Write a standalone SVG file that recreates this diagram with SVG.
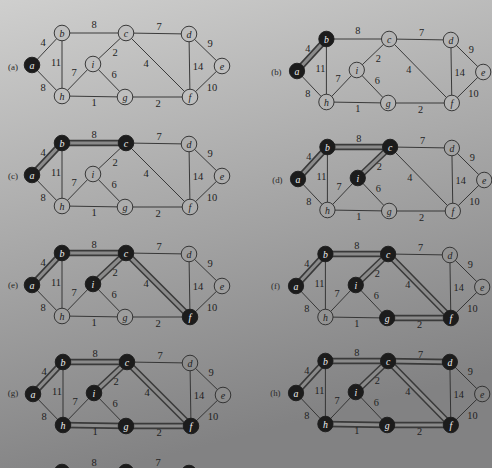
<svg xmlns="http://www.w3.org/2000/svg" width="492" height="468" viewBox="0 0 492 468">
<defs>
<linearGradient id="bg" gradientUnits="userSpaceOnUse" x1="0" y1="0" x2="120" y2="468">
<stop offset="0" stop-color="#cfcfce"/><stop offset="1" stop-color="#828283"/>
</linearGradient>
<style>
line{stroke-linecap:round}
.thin{stroke:#2b2b2b;stroke-width:0.9}
.t1{stroke:#3a3a3a;stroke-width:6.4}
.t2{stroke:#8a8a8a;stroke-width:3.2}
.node circle{stroke:#2a2a2a;stroke-width:0.9}
.b circle{fill:#1c1c1c;stroke:#1c1c1c}
.node text{font-family:"Liberation Serif",serif;font-style:italic;font-size:10px;text-anchor:middle;dominant-baseline:central}
.w text{fill:#222}
.b text{fill:#eeeeee}
.wt{font-family:"Liberation Serif",serif;font-size:10.5px;fill:#1e1e1e;text-anchor:middle;dominant-baseline:central}
.pl{font-family:"Liberation Serif",serif;font-size:9px;fill:#2a2a2a;text-anchor:middle;dominant-baseline:central}
</style>
<g id="base">
<line x1="0" y1="0" x2="30" y2="-32"/>
<line x1="30" y1="-32" x2="94" y2="-32"/>
<line x1="94" y1="-32" x2="157" y2="-31"/>
<line x1="157" y1="-31" x2="190" y2="1"/>
<line x1="30" y1="-32" x2="30" y2="31"/>
<line x1="0" y1="0" x2="30" y2="31"/>
<line x1="94" y1="-32" x2="61" y2="-1"/>
<line x1="94" y1="-32" x2="158" y2="32"/>
<line x1="30" y1="31" x2="61" y2="-1"/>
<line x1="61" y1="-1" x2="93" y2="32"/>
<line x1="157" y1="-31" x2="158" y2="32"/>
<line x1="190" y1="1" x2="158" y2="32"/>
<line x1="30" y1="31" x2="93" y2="32"/>
<line x1="93" y1="32" x2="158" y2="32"/>
</g>
<line id="ab" x1="0" y1="0" x2="30" y2="-32"/>
<line id="bc" x1="30" y1="-32" x2="94" y2="-32"/>
<line id="ci" x1="94" y1="-32" x2="61" y2="-1"/>
<line id="cf" x1="94" y1="-32" x2="158" y2="32"/>
<line id="fg" x1="93" y1="32" x2="158" y2="32"/>
<line id="gh" x1="30" y1="31" x2="93" y2="32"/>
<line id="cd" x1="94" y1="-32" x2="157" y2="-31"/>
</defs>
<rect width="492" height="468" fill="url(#bg)"/>

<!-- (a) -->
<g id="panel-a" transform="translate(32,65)">
<g id="a-connectors"><use href="#base" class="thin"/></g>
<g id="a-weights">
<text class="wt" x="11" y="-23">4</text><text class="wt" x="62" y="-41">8</text><text class="wt" x="127" y="-39">7</text><text class="wt" x="178" y="-22">9</text><text class="wt" x="24" y="-3">11</text><text class="wt" x="83" y="-13">2</text><text class="wt" x="114" y="-2">4</text><text class="wt" x="166" y="1">14</text><text class="wt" x="42" y="7">7</text><text class="wt" x="82" y="9">6</text><text class="wt" x="11" y="22">8</text><text class="wt" x="180" y="22">10</text><text class="wt" x="62" y="37">1</text><text class="wt" x="126" y="38">2</text>
<text class="pl" x="-19" y="2">(a)</text>
</g>
<g fill="#bfbfbf">
<g id="a-a" class="node b"><circle cx="0" cy="0" r="7.8"/><text x="0" y="0">a</text></g>
<g id="a-b" class="node w"><circle cx="30" cy="-32" r="7.8"/><text x="30" y="-32">b</text></g>
<g id="a-c" class="node w"><circle cx="94" cy="-32" r="7.8"/><text x="94" y="-32">c</text></g>
<g id="a-d" class="node w"><circle cx="157" cy="-31" r="7.8"/><text x="157" y="-31">d</text></g>
<g id="a-e" class="node w"><circle cx="190" cy="1" r="7.8"/><text x="190" y="1">e</text></g>
<g id="a-f" class="node w"><circle cx="158" cy="32" r="7.8"/><text x="158" y="32">f</text></g>
<g id="a-g" class="node w"><circle cx="93" cy="32" r="7.8"/><text x="93" y="32">g</text></g>
<g id="a-h" class="node w"><circle cx="30" cy="31" r="7.8"/><text x="30" y="31">h</text></g>
<g id="a-i" class="node w"><circle cx="61" cy="-1" r="7.8"/><text x="61" y="-1">i</text></g>
</g>
</g>

<!-- (b) -->
<g id="panel-b" transform="translate(297,71) scale(0.98,1)">
<g id="b-connectors"><use href="#base" class="thin"/><use href="#ab" class="t1"/><use href="#ab" class="t2"/></g>
<g id="b-weights">
<text class="wt" x="11" y="-23">4</text><text class="wt" x="62" y="-41">8</text><text class="wt" x="127" y="-39">7</text><text class="wt" x="178" y="-22">9</text><text class="wt" x="24" y="-3">11</text><text class="wt" x="83" y="-13">2</text><text class="wt" x="114" y="-2">4</text><text class="wt" x="166" y="1">14</text><text class="wt" x="42" y="7">7</text><text class="wt" x="82" y="9">6</text><text class="wt" x="11" y="22">8</text><text class="wt" x="180" y="22">10</text><text class="wt" x="62" y="37">1</text><text class="wt" x="126" y="38">2</text>
<text class="pl" x="-21" y="1">(b)</text>
</g>
<g fill="#b4b4b4">
<g id="b-a" class="node b"><circle cx="0" cy="0" r="7.8"/><text x="0" y="0">a</text></g>
<g id="b-b" class="node b"><circle cx="30" cy="-32" r="7.8"/><text x="30" y="-32">b</text></g>
<g id="b-c" class="node w"><circle cx="94" cy="-32" r="7.8"/><text x="94" y="-32">c</text></g>
<g id="b-d" class="node w"><circle cx="157" cy="-31" r="7.8"/><text x="157" y="-31">d</text></g>
<g id="b-e" class="node w"><circle cx="190" cy="1" r="7.8"/><text x="190" y="1">e</text></g>
<g id="b-f" class="node w"><circle cx="158" cy="32" r="7.8"/><text x="158" y="32">f</text></g>
<g id="b-g" class="node w"><circle cx="93" cy="32" r="7.8"/><text x="93" y="32">g</text></g>
<g id="b-h" class="node w"><circle cx="30" cy="31" r="7.8"/><text x="30" y="31">h</text></g>
<g id="b-i" class="node w"><circle cx="61" cy="-1" r="7.8"/><text x="61" y="-1">i</text></g>
</g>
</g>

<!-- (c) -->
<g id="panel-c" transform="translate(32,175)">
<g id="c-connectors"><use href="#base" class="thin"/><use href="#ab" class="t1"/><use href="#ab" class="t2"/><use href="#bc" class="t1"/><use href="#bc" class="t2"/></g>
<g id="c-weights">
<text class="wt" x="11" y="-23">4</text><text class="wt" x="62" y="-41">8</text><text class="wt" x="127" y="-39">7</text><text class="wt" x="178" y="-22">9</text><text class="wt" x="24" y="-3">11</text><text class="wt" x="83" y="-13">2</text><text class="wt" x="114" y="-2">4</text><text class="wt" x="166" y="1">14</text><text class="wt" x="42" y="7">7</text><text class="wt" x="82" y="9">6</text><text class="wt" x="11" y="22">8</text><text class="wt" x="180" y="22">10</text><text class="wt" x="62" y="37">1</text><text class="wt" x="126" y="38">2</text>
<text class="pl" x="-19" y="1">(c)</text>
</g>
<g fill="#aeaeae">
<g id="c-a" class="node b"><circle cx="0" cy="0" r="7.8"/><text x="0" y="0">a</text></g>
<g id="c-b" class="node b"><circle cx="30" cy="-32" r="7.8"/><text x="30" y="-32">b</text></g>
<g id="c-c" class="node b"><circle cx="94" cy="-32" r="7.8"/><text x="94" y="-32">c</text></g>
<g id="c-d" class="node w"><circle cx="157" cy="-31" r="7.8"/><text x="157" y="-31">d</text></g>
<g id="c-e" class="node w"><circle cx="190" cy="1" r="7.8"/><text x="190" y="1">e</text></g>
<g id="c-f" class="node w"><circle cx="158" cy="32" r="7.8"/><text x="158" y="32">f</text></g>
<g id="c-g" class="node w"><circle cx="93" cy="32" r="7.8"/><text x="93" y="32">g</text></g>
<g id="c-h" class="node w"><circle cx="30" cy="31" r="7.8"/><text x="30" y="31">h</text></g>
<g id="c-i" class="node w"><circle cx="61" cy="-1" r="7.8"/><text x="61" y="-1">i</text></g>
</g>
</g>

<!-- (d) -->
<g id="panel-d" transform="translate(298,179) scale(0.98,1)">
<g id="d-connectors"><use href="#base" class="thin"/><use href="#ab" class="t1"/><use href="#ab" class="t2"/><use href="#bc" class="t1"/><use href="#bc" class="t2"/><use href="#ci" class="t1"/><use href="#ci" class="t2"/></g>
<g id="d-weights">
<text class="wt" x="11" y="-23">4</text><text class="wt" x="62" y="-41">8</text><text class="wt" x="127" y="-39">7</text><text class="wt" x="178" y="-22">9</text><text class="wt" x="24" y="-3">11</text><text class="wt" x="83" y="-13">2</text><text class="wt" x="114" y="-2">4</text><text class="wt" x="166" y="1">14</text><text class="wt" x="42" y="7">7</text><text class="wt" x="82" y="9">6</text><text class="wt" x="11" y="22">8</text><text class="wt" x="180" y="22">10</text><text class="wt" x="62" y="37">1</text><text class="wt" x="126" y="38">2</text>
<text class="pl" x="-21" y="1">(d)</text>
</g>
<g fill="#a3a3a3">
<g id="d-a" class="node b"><circle cx="0" cy="0" r="7.8"/><text x="0" y="0">a</text></g>
<g id="d-b" class="node b"><circle cx="30" cy="-32" r="7.8"/><text x="30" y="-32">b</text></g>
<g id="d-c" class="node b"><circle cx="94" cy="-32" r="7.8"/><text x="94" y="-32">c</text></g>
<g id="d-d" class="node w"><circle cx="157" cy="-31" r="7.8"/><text x="157" y="-31">d</text></g>
<g id="d-e" class="node w"><circle cx="190" cy="1" r="7.8"/><text x="190" y="1">e</text></g>
<g id="d-f" class="node w"><circle cx="158" cy="32" r="7.8"/><text x="158" y="32">f</text></g>
<g id="d-g" class="node w"><circle cx="93" cy="32" r="7.8"/><text x="93" y="32">g</text></g>
<g id="d-h" class="node w"><circle cx="30" cy="31" r="7.8"/><text x="30" y="31">h</text></g>
<g id="d-i" class="node b"><circle cx="61" cy="-1" r="7.8"/><text x="61" y="-1">i</text></g>
</g>
</g>

<!-- (e) -->
<g id="panel-e" transform="translate(32,285)">
<g id="e-connectors"><use href="#base" class="thin"/><use href="#ab" class="t1"/><use href="#ab" class="t2"/><use href="#bc" class="t1"/><use href="#bc" class="t2"/><use href="#ci" class="t1"/><use href="#ci" class="t2"/><use href="#cf" class="t1"/><use href="#cf" class="t2"/></g>
<g id="e-weights">
<text class="wt" x="11" y="-23">4</text><text class="wt" x="62" y="-41">8</text><text class="wt" x="127" y="-39">7</text><text class="wt" x="178" y="-22">9</text><text class="wt" x="24" y="-3">11</text><text class="wt" x="83" y="-13">2</text><text class="wt" x="114" y="-2">4</text><text class="wt" x="166" y="1">14</text><text class="wt" x="42" y="7">7</text><text class="wt" x="82" y="9">6</text><text class="wt" x="11" y="22">8</text><text class="wt" x="180" y="22">10</text><text class="wt" x="62" y="37">1</text><text class="wt" x="126" y="38">2</text>
<text class="pl" x="-19" y="0">(e)</text>
</g>
<g fill="#9e9e9e">
<g id="e-a" class="node b"><circle cx="0" cy="0" r="7.8"/><text x="0" y="0">a</text></g>
<g id="e-b" class="node b"><circle cx="30" cy="-32" r="7.8"/><text x="30" y="-32">b</text></g>
<g id="e-c" class="node b"><circle cx="94" cy="-32" r="7.8"/><text x="94" y="-32">c</text></g>
<g id="e-d" class="node w"><circle cx="157" cy="-31" r="7.8"/><text x="157" y="-31">d</text></g>
<g id="e-e" class="node w"><circle cx="190" cy="1" r="7.8"/><text x="190" y="1">e</text></g>
<g id="e-f" class="node b"><circle cx="158" cy="32" r="7.8"/><text x="158" y="32">f</text></g>
<g id="e-g" class="node w"><circle cx="93" cy="32" r="7.8"/><text x="93" y="32">g</text></g>
<g id="e-h" class="node w"><circle cx="30" cy="31" r="7.8"/><text x="30" y="31">h</text></g>
<g id="e-i" class="node b"><circle cx="61" cy="-1" r="7.8"/><text x="61" y="-1">i</text></g>
</g>
</g>

<!-- (f) -->
<g id="panel-f" transform="translate(296,286) scale(0.98,1)">
<g id="f-connectors"><use href="#base" class="thin"/><use href="#ab" class="t1"/><use href="#ab" class="t2"/><use href="#bc" class="t1"/><use href="#bc" class="t2"/><use href="#ci" class="t1"/><use href="#ci" class="t2"/><use href="#cf" class="t1"/><use href="#cf" class="t2"/><use href="#fg" class="t1"/><use href="#fg" class="t2"/></g>
<g id="f-weights">
<text class="wt" x="11" y="-23">4</text><text class="wt" x="62" y="-41">8</text><text class="wt" x="127" y="-39">7</text><text class="wt" x="178" y="-22">9</text><text class="wt" x="24" y="-3">11</text><text class="wt" x="83" y="-13">2</text><text class="wt" x="114" y="-2">4</text><text class="wt" x="166" y="1">14</text><text class="wt" x="42" y="7">7</text><text class="wt" x="82" y="9">6</text><text class="wt" x="11" y="22">8</text><text class="wt" x="180" y="22">10</text><text class="wt" x="62" y="37">1</text><text class="wt" x="126" y="38">2</text>
<text class="pl" x="-21" y="0">(f)</text>
</g>
<g fill="#939393">
<g id="f-a" class="node b"><circle cx="0" cy="0" r="7.8"/><text x="0" y="0">a</text></g>
<g id="f-b" class="node b"><circle cx="30" cy="-32" r="7.8"/><text x="30" y="-32">b</text></g>
<g id="f-c" class="node b"><circle cx="94" cy="-32" r="7.8"/><text x="94" y="-32">c</text></g>
<g id="f-d" class="node w"><circle cx="157" cy="-31" r="7.8"/><text x="157" y="-31">d</text></g>
<g id="f-e" class="node w"><circle cx="190" cy="1" r="7.8"/><text x="190" y="1">e</text></g>
<g id="f-f" class="node b"><circle cx="158" cy="32" r="7.8"/><text x="158" y="32">f</text></g>
<g id="f-g" class="node b"><circle cx="93" cy="32" r="7.8"/><text x="93" y="32">g</text></g>
<g id="f-h" class="node w"><circle cx="30" cy="31" r="7.8"/><text x="30" y="31">h</text></g>
<g id="f-i" class="node b"><circle cx="61" cy="-1" r="7.8"/><text x="61" y="-1">i</text></g>
</g>
</g>

<!-- (g) -->
<g id="panel-g" transform="translate(33,394)">
<g id="g-connectors"><use href="#base" class="thin"/><use href="#ab" class="t1"/><use href="#ab" class="t2"/><use href="#bc" class="t1"/><use href="#bc" class="t2"/><use href="#ci" class="t1"/><use href="#ci" class="t2"/><use href="#cf" class="t1"/><use href="#cf" class="t2"/><use href="#fg" class="t1"/><use href="#fg" class="t2"/><use href="#gh" class="t1"/><use href="#gh" class="t2"/></g>
<g id="g-weights">
<text class="wt" x="11" y="-23">4</text><text class="wt" x="62" y="-41">8</text><text class="wt" x="127" y="-39">7</text><text class="wt" x="178" y="-22">9</text><text class="wt" x="24" y="-3">11</text><text class="wt" x="83" y="-13">2</text><text class="wt" x="114" y="-2">4</text><text class="wt" x="166" y="1">14</text><text class="wt" x="42" y="7">7</text><text class="wt" x="82" y="9">6</text><text class="wt" x="11" y="22">8</text><text class="wt" x="180" y="22">10</text><text class="wt" x="62" y="37">1</text><text class="wt" x="126" y="38">2</text>
<text class="pl" x="-20" y="-1">(g)</text>
</g>
<g fill="#8d8d8d">
<g id="g-a" class="node b"><circle cx="0" cy="0" r="7.8"/><text x="0" y="0">a</text></g>
<g id="g-b" class="node b"><circle cx="30" cy="-32" r="7.8"/><text x="30" y="-32">b</text></g>
<g id="g-c" class="node b"><circle cx="94" cy="-32" r="7.8"/><text x="94" y="-32">c</text></g>
<g id="g-d" class="node w"><circle cx="157" cy="-31" r="7.8"/><text x="157" y="-31">d</text></g>
<g id="g-e" class="node w"><circle cx="190" cy="1" r="7.8"/><text x="190" y="1">e</text></g>
<g id="g-f" class="node b"><circle cx="158" cy="32" r="7.8"/><text x="158" y="32">f</text></g>
<g id="g-g" class="node b"><circle cx="93" cy="32" r="7.8"/><text x="93" y="32">g</text></g>
<g id="g-h" class="node b"><circle cx="30" cy="31" r="7.8"/><text x="30" y="31">h</text></g>
<g id="g-i" class="node b"><circle cx="61" cy="-1" r="7.8"/><text x="61" y="-1">i</text></g>
</g>
</g>

<!-- (h) -->
<g id="panel-h" transform="translate(296,393) scale(0.98,1)">
<g id="h-connectors"><use href="#base" class="thin"/><use href="#ab" class="t1"/><use href="#ab" class="t2"/><use href="#bc" class="t1"/><use href="#bc" class="t2"/><use href="#ci" class="t1"/><use href="#ci" class="t2"/><use href="#cf" class="t1"/><use href="#cf" class="t2"/><use href="#fg" class="t1"/><use href="#fg" class="t2"/><use href="#gh" class="t1"/><use href="#gh" class="t2"/><use href="#cd" class="t1"/><use href="#cd" class="t2"/></g>
<g id="h-weights">
<text class="wt" x="11" y="-23">4</text><text class="wt" x="62" y="-41">8</text><text class="wt" x="127" y="-39">7</text><text class="wt" x="178" y="-22">9</text><text class="wt" x="24" y="-3">11</text><text class="wt" x="83" y="-13">2</text><text class="wt" x="114" y="-2">4</text><text class="wt" x="166" y="1">14</text><text class="wt" x="42" y="7">7</text><text class="wt" x="82" y="9">6</text><text class="wt" x="11" y="22">8</text><text class="wt" x="180" y="22">10</text><text class="wt" x="62" y="37">1</text><text class="wt" x="126" y="38">2</text>
<text class="pl" x="-21" y="0">(h)</text>
</g>
<g fill="#838383">
<g id="h-a" class="node b"><circle cx="0" cy="0" r="7.8"/><text x="0" y="0">a</text></g>
<g id="h-b" class="node b"><circle cx="30" cy="-32" r="7.8"/><text x="30" y="-32">b</text></g>
<g id="h-c" class="node b"><circle cx="94" cy="-32" r="7.8"/><text x="94" y="-32">c</text></g>
<g id="h-d" class="node b"><circle cx="157" cy="-31" r="7.8"/><text x="157" y="-31">d</text></g>
<g id="h-e" class="node w"><circle cx="190" cy="1" r="7.8"/><text x="190" y="1">e</text></g>
<g id="h-f" class="node b"><circle cx="158" cy="32" r="7.8"/><text x="158" y="32">f</text></g>
<g id="h-g" class="node b"><circle cx="93" cy="32" r="7.8"/><text x="93" y="32">g</text></g>
<g id="h-h" class="node b"><circle cx="30" cy="31" r="7.8"/><text x="30" y="31">h</text></g>
<g id="h-i" class="node b"><circle cx="61" cy="-1" r="7.8"/><text x="61" y="-1">i</text></g>
</g>
</g>

<!-- (i) partially visible -->
<g id="panel-i" transform="translate(32,504)">
<g id="i-weights">
<text class="wt" x="62" y="-42">8</text><text class="wt" x="126" y="-42">7</text>
</g>
<g id="i-b" class="node b"><circle cx="30" cy="-32" r="7.8"/></g>
<g id="i-c" class="node b"><circle cx="94" cy="-32" r="7.8"/></g>
<g id="i-d" class="node b"><circle cx="157" cy="-31" r="7.8"/></g>
</g>
</svg>
